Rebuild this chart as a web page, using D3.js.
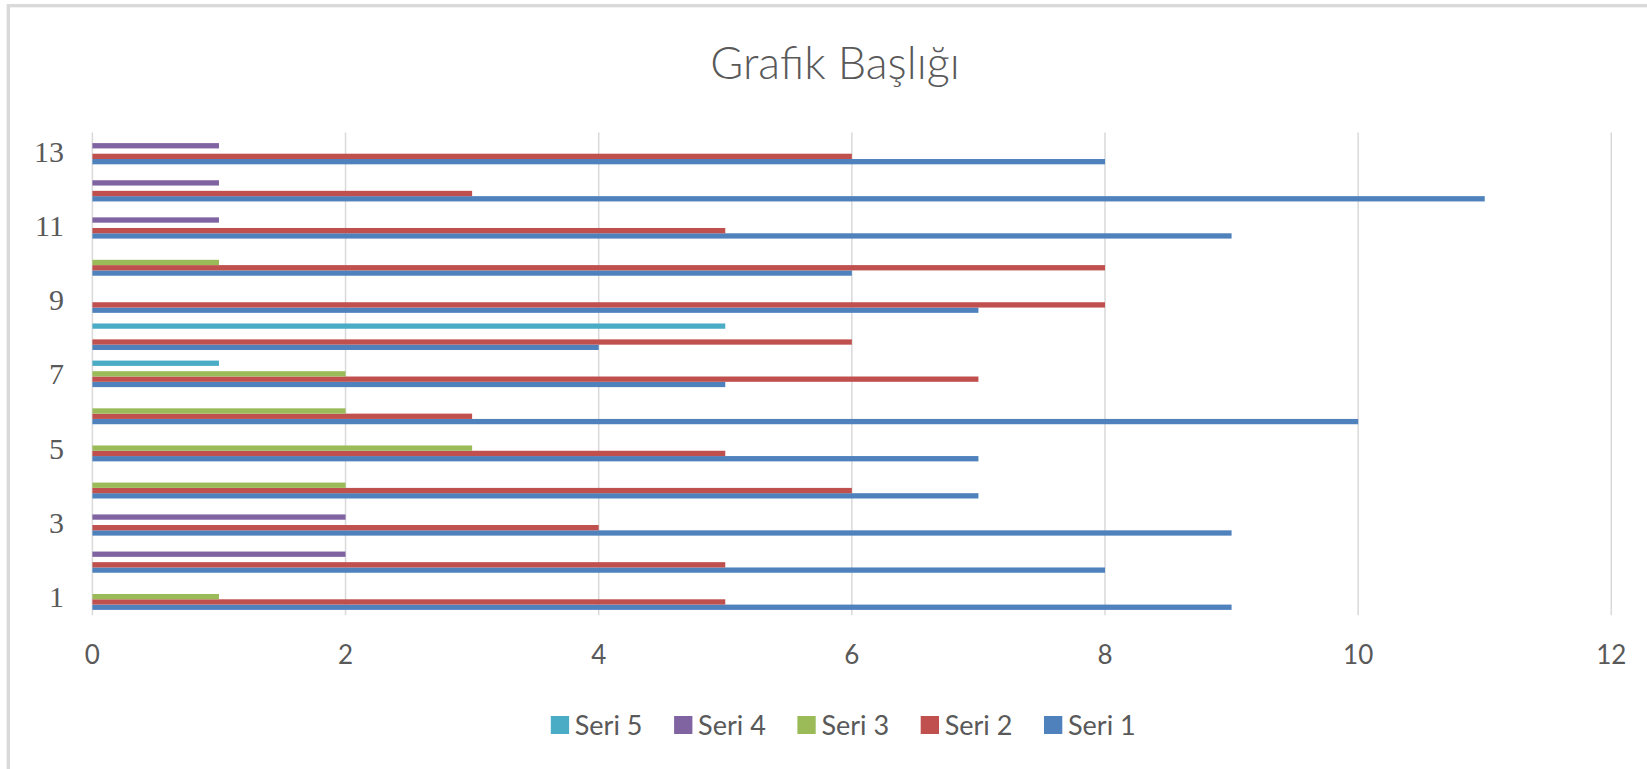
<!DOCTYPE html>
<html>
<head>
<meta charset="utf-8">
<script src="https://cdn.jsdelivr.net/npm/d3@7"></script>
<style>
	body { margin: 0; background: #fff; }
	.tickText { fill: #595959; }
</style>
</head>
<body>
<div id="bar_chart"></div>
<script>

// chart values
let categories = ["1", "2", "3", "4", "5", "6", "7", "8", "9", "10", "11", "12", "13"];
let seriesNames = ["Seri 1", "Seri 2", "Seri 3", "Seri 4", "Seri 5"];
let seri1 = [9, 8, 9, 7, 7, 10, 5, 4, 7, 6, 9, 11, 8];
let seri2 = [5, 5, 4, 6, 5, 3, 7, 6, 8, 8, 5, 3, 6];
let seri3 = [1, 0, 0, 2, 3, 2, 2, 0, 0, 1, 0, 0, 0];
let seri4 = [0, 2, 2, 0, 0, 0, 0, 0, 0, 0, 1, 1, 1];
let seri5 = [0, 0, 0, 0, 0, 0, 1, 5, 0, 0, 0, 0, 0];
let xTicks = [0, 2, 4, 6, 8, 10, 12];
let yTickLabels = ["1", "3", "5", "7", "9", "11", "13"];
let legendOrder = ["Seri 5", "Seri 4", "Seri 3", "Seri 2", "Seri 1"];
let chartTitle = "Grafik Başlığı";

let seriesValues = [seri1, seri2, seri3, seri4, seri5];
let colors = ["#4F81BD", "#C0504D", "#9BBB59", "#8064A2", "#4BACC6"];

let width = 1647,
	height = 769;

let plot = { left: 92.4, right: 1611.3, top: 132.5, bottom: 615.2 };

let svg = d3
	.select("#bar_chart")
	.append("svg")
	.attr("width", width)
	.attr("height", height);

// outer frame (right and bottom edges run off the picture)
svg.append("rect")
	.attr("x", 8.3)
	.attr("y", 5.7)
	.attr("width", 1700)
	.attr("height", 800)
	.attr("fill", "none")
	.attr("stroke", "#d9d9d9")
	.attr("stroke-width", 3.3);

let x = d3.scaleLinear()
	.domain([0, 12])
	.range([plot.left, plot.right]);

let y = d3.scaleBand()
	.domain(categories)
	.range([plot.bottom, plot.top])
	.paddingInner(0.286)
	.paddingOuter(0.143);

let ySub = d3.scaleBand()
	.domain(seriesNames)
	.range([y.bandwidth(), 0]);

// gridlines
svg.append("g")
	.selectAll("line")
	.data(xTicks)
	.enter()
	.append("line")
	.attr("x1", d => x(d))
	.attr("x2", d => x(d))
	.attr("y1", plot.top)
	.attr("y2", plot.bottom)
	.attr("stroke", "#d9d9d9")
	.attr("stroke-width", 1.5);

// bars, one group per series
let rows = [];
seriesNames.forEach(function (s, i) {
	categories.forEach(function (c, j) {
		rows.push({ series: s, idx: i, category: c, value: seriesValues[i][j] });
	});
});

svg.append("g")
	.selectAll("rect")
	.data(rows.filter(d => d.value > 0))
	.enter()
	.append("rect")
	.attr("x", x(0))
	.attr("y", d => y(d.category) + ySub(d.series))
	.attr("width", d => x(d.value) - x(0))
	.attr("height", ySub.bandwidth())
	.attr("fill", d => colors[d.idx]);

// x axis labels
svg.append("g")
	.selectAll("text")
	.data(xTicks)
	.enter()
	.append("text")
	.attr("class", "tickText")
	.attr("x", d => x(d))
	.attr("y", 664)
	.attr("text-anchor", "middle")
	.style("font-family", "Lato, 'Open Sans', sans-serif")
	.style("font-size", "26px")
	.text(d => d);

// y axis labels (every second category)
svg.append("g")
	.selectAll("text")
	.data(yTickLabels)
	.enter()
	.append("text")
	.attr("class", "tickText")
	.attr("x", 64)
	.attr("y", d => y(d) + y.bandwidth() / 2)
	.attr("dy", "0.35em")
	.attr("text-anchor", "end")
	.style("font-family", "'Liberation Serif', 'DejaVu Serif', serif")
	.style("font-size", "30px")
	.text(d => d);

// title
svg.append("text")
	.attr("class", "tickText")
	.attr("x", 835)
	.attr("y", 79)
	.attr("text-anchor", "middle")
	.style("font-family", "Lato, 'Open Sans', sans-serif")
	.style("font-weight", 300)
	.style("font-size", "45px")
	.text(chartTitle);

// legend
let legendX = d3.scalePoint()
	.domain(legendOrder)
	.range([550.8, 1044]);

let legend = svg.append("g")
	.selectAll("g")
	.data(legendOrder)
	.enter()
	.append("g")
	.attr("transform", d => "translate(" + legendX(d) + ",725)");

legend.append("rect")
	.attr("x", 0)
	.attr("y", -9)
	.attr("width", 18.3)
	.attr("height", 18)
	.attr("fill", d => colors[seriesNames.indexOf(d)]);

legend.append("text")
	.attr("class", "tickText")
	.attr("x", 24)
	.attr("y", 0)
	.attr("dy", "0.36em")
	.style("font-family", "Lato, 'Open Sans', sans-serif")
	.style("font-size", "27px")
	.text(d => d);

</script>
</body>
</html>
